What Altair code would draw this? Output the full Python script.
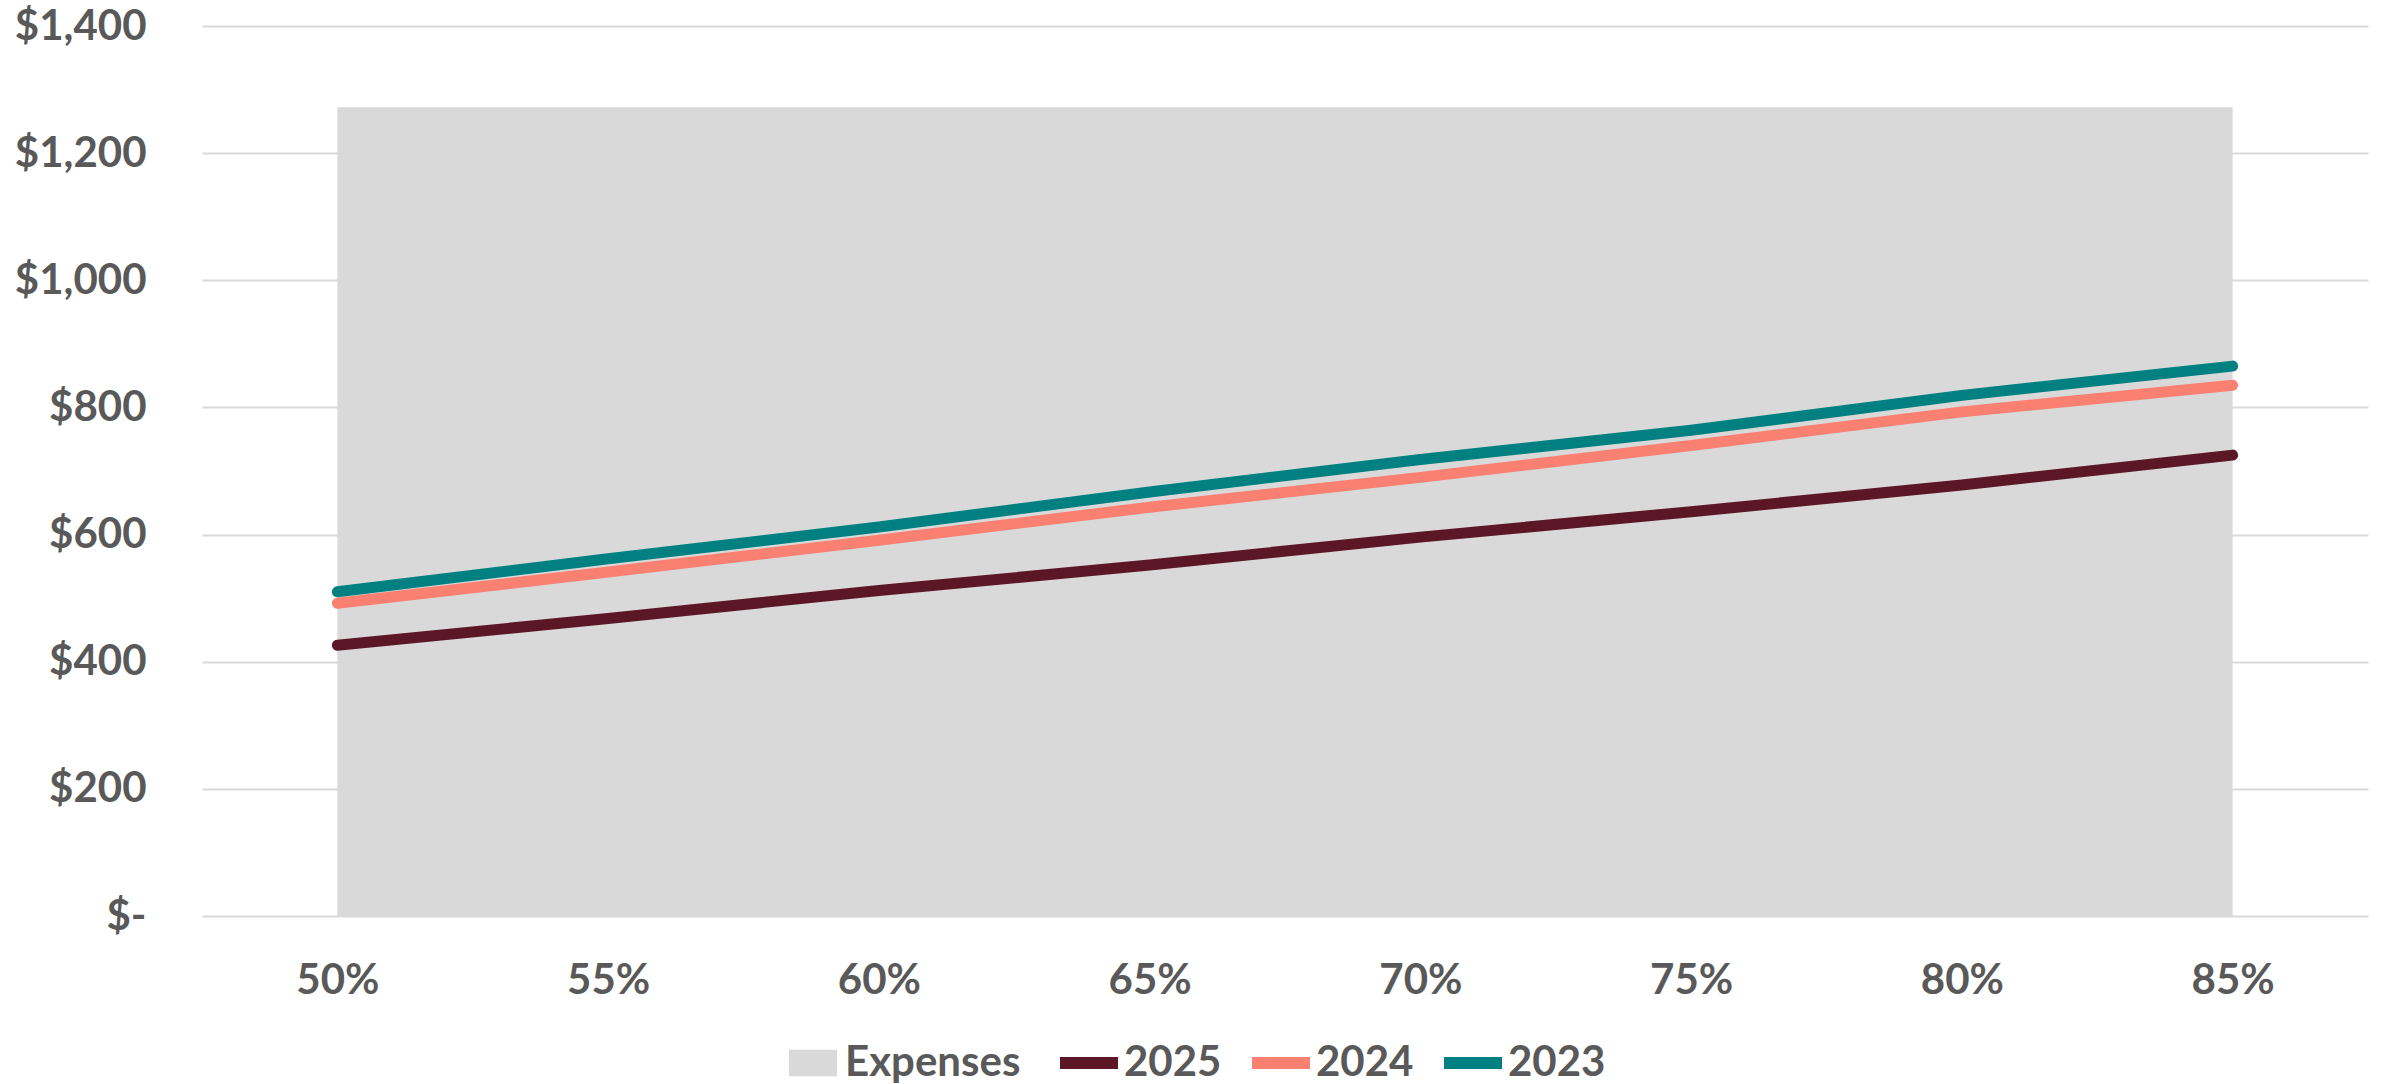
import altair as alt
import pandas as pd

categories = ["50%", "55%", "60%", "65%", "70%", "75%", "80%", "85%"]
expenses = [1272, 1272, 1272, 1272, 1272, 1272, 1272, 1272]
s2025 = [426, 468, 512, 552, 596, 636, 678, 725]
s2024 = [492, 541, 591, 643, 690, 740, 793, 835]
s2023 = [510, 562, 612, 667, 718, 764, 819, 865]

line_series = ["2025", "2024", "2023"]
line_colors = ["#5C1726", "#FA8072", "#008080"]

exp_df = pd.DataFrame({"cat": categories, "value": expenses, "series": "Expenses"})
rows = []
for name, vals in zip(line_series, [s2025, s2024, s2023]):
    for c, v in zip(categories, vals):
        rows.append({"cat": c, "value": v, "series": name})
line_df = pd.DataFrame(rows)

FONT = "Lato"
TXT = "#595959"

x_enc = alt.X(
    "cat:N",
    sort=categories,
    scale=alt.Scale(type="point", padding=0.5),
    axis=alt.Axis(
        title=None, domain=False, ticks=False, grid=False, labelAngle=0,
        labelFont=FONT, labelFontWeight="bold", labelFontSize=42,
        labelColor=TXT, labelPadding=44,
    ),
)
y_enc = alt.Y(
    "value:Q",
    scale=alt.Scale(domain=[0, 1400], nice=False, zero=True),
    axis=alt.Axis(
        title=None, domain=False, ticks=False, grid=True,
        gridColor="#D9D9D9", gridWidth=2,
        values=[0, 200, 400, 600, 800, 1000, 1200, 1400],
        labelExpr="datum.value == 0 ? '$-' : '$' + format(datum.value, ',')",
        labelFont=FONT, labelFontWeight="bold", labelFontSize=42,
        labelColor=TXT, labelPadding=56,
    ),
)

area = alt.Chart(exp_df).mark_area(opacity=1).encode(
    x=x_enc,
    y=y_enc,
    fill=alt.Fill(
        "series:N",
        scale=alt.Scale(domain=["Expenses"], range=["#D9D9D9"]),
        legend=alt.Legend(
            title=None, orient="none", legendX=587, legendY=1013,
            symbolType="M-1,-0.55H1V0.55H-1Z", symbolSize=2300,
            symbolStrokeWidth=0, symbolOpacity=1,
            labelFont=FONT, labelFontWeight="bold", labelFontSize=42,
            labelColor=TXT, labelOffset=8, labelLimit=0, padding=0,
        ),
    ),
)

lines = alt.Chart(line_df).mark_line(
    strokeWidth=11, strokeCap="round", strokeJoin="round"
).encode(
    x=x_enc,
    y=y_enc,
    stroke=alt.Stroke(
        "series:N",
        sort=line_series,
        scale=alt.Scale(domain=line_series, range=line_colors),
        legend=alt.Legend(
            title=None, orient="none", direction="horizontal",
            legendX=852, legendY=1002,
            symbolType="stroke", symbolSize=3364, symbolStrokeWidth=12,
            labelFont=FONT, labelFontWeight="bold", labelFontSize=42,
            labelColor=TXT, labelOffset=0, labelLimit=0,
            columnPadding=6, padding=0,
        ),
    ),
    order=alt.Order("series:N", sort="descending"),
)

chart = (
    alt.layer(area, lines)
    .properties(
        width=2166, height=890,
        autosize=alt.AutoSizeParams(type="none"),
        padding={"left": 202, "top": 26, "right": 13, "bottom": 168},
        background="white",
    )
    .configure_view(stroke=None)
)

chart.save("out.html", embed_options={"renderer": "svg", "actions": False})
